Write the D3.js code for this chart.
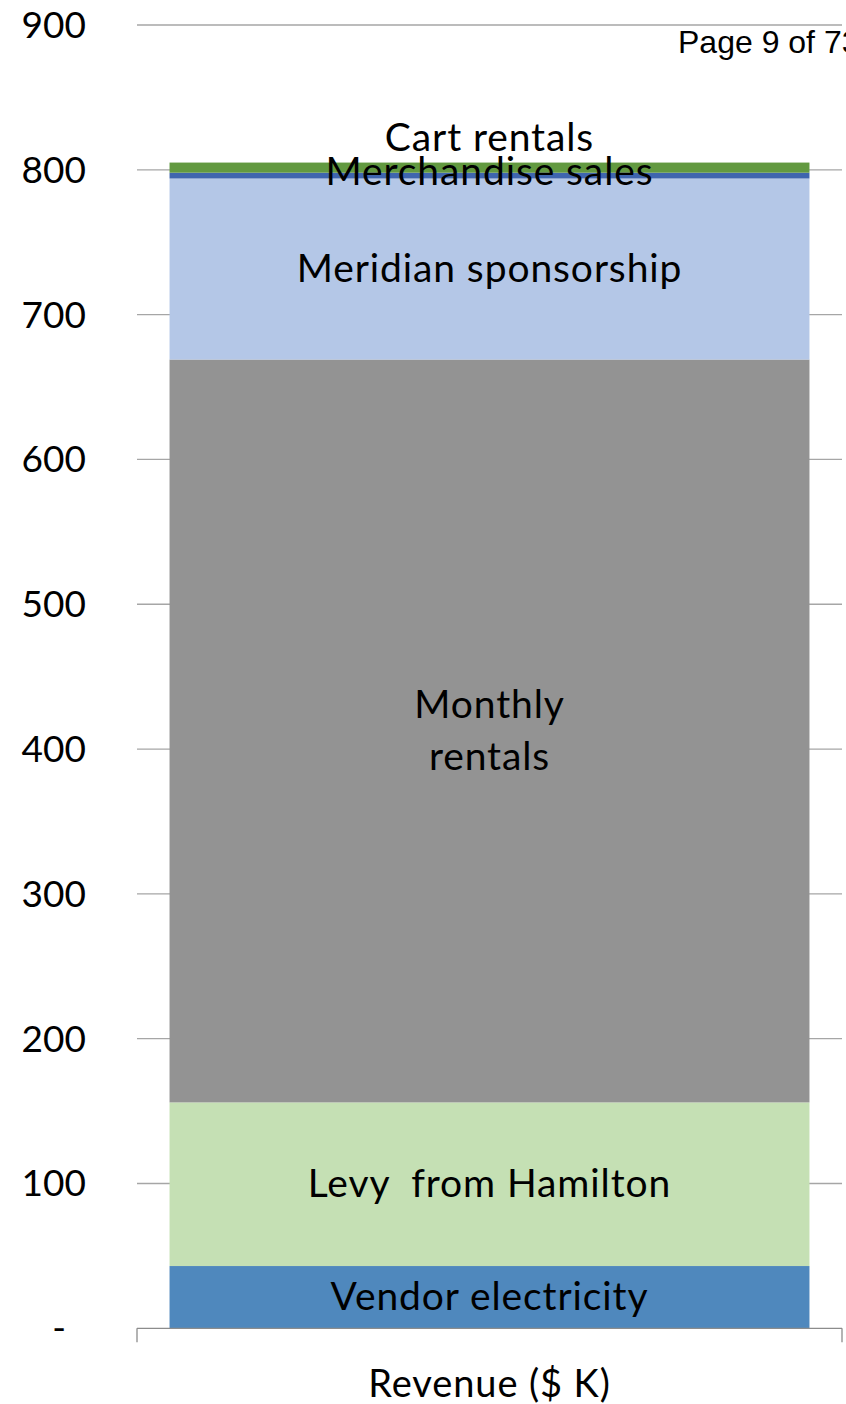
<!DOCTYPE html>
<html>
<head>
<meta charset="utf-8">
<script src="https://cdn.jsdelivr.net/npm/d3@7"></script>
<style>
  html, body { margin: 0; padding: 0; background: #fff; }
  svg { display: block; }
  text { white-space: pre; }
</style>
</head>
<body>
<svg id="chart" width="846" height="1404"></svg>
<script>
// ---- data ----
const category = ["Revenue ($ K)"];
const seriesNames = ["Vendor electricity", "Levy  from Hamilton", "Monthly rentals", "Meridian sponsorship", "Merchandise sales", "Cart rentals"];
const seriesLabels = [["Vendor electricity"], ["Levy  from Hamilton"], ["Monthly", "rentals"], ["Meridian sponsorship"], ["Merchandise sales"], ["Cart rentals"]];
const seriesValues = [43, 113, 513, 125, 4, 7];
const seriesColors = ["#4f88bd", "#c5e0b4", "#939393", "#b4c7e7", "#3f65ae", "#629940"];
const yTicks = [0, 100, 200, 300, 400, 500, 600, 700, 800, 900];
const pageNote = "Page 9 of 73";

// ---- layout ----
const svg = d3.select("#chart");
const plotLeft = 137, plotRight = 842, plotTop = 25, plotBottom = 1328.3;
const FONT = "Lato, 'Open Sans', sans-serif";

const y = d3.scaleLinear().domain([0, 900]).range([plotBottom, plotTop]);
const x = d3.scaleBand().domain(category).range([plotLeft, plotRight])
  .paddingInner(0.0923).paddingOuter(0.0923 / 2);

// gridlines
svg.append("g").selectAll("line").data(yTicks.filter(d => d > 0)).join("line")
  .attr("x1", plotLeft).attr("x2", plotRight)
  .attr("y1", d => y(d)).attr("y2", d => y(d))
  .attr("stroke", "#a6a6a6").attr("stroke-width", 1.3);

// tick labels
svg.append("g").selectAll("text").data(yTicks).join("text")
  .attr("x", d => d === 0 ? 59 : 86)
  .attr("y", d => y(d) + 13)
  .attr("text-anchor", d => d === 0 ? "middle" : "end")
  .attr("font-family", FONT)
  .attr("font-size", 37)
  .attr("fill", "#000")
  .text(d => d === 0 ? "-" : d3.format("d")(d));

// stacked data
const row = {};
seriesNames.forEach((n, i) => row[n] = seriesValues[i]);
const stack = d3.stack().keys(seriesNames)([row]);

const bx = x(category[0]), bw = x.bandwidth();
svg.append("g").selectAll("rect").data(stack).join("rect")
  .attr("x", bx).attr("width", bw)
  .attr("y", d => y(d[0][1]))
  .attr("height", d => y(d[0][0]) - y(d[0][1]))
  .attr("fill", (d, i) => seriesColors[i]);

// bottom axis line with end ticks
const axisG = svg.append("g");
axisG.append("line").attr("x1", plotLeft).attr("x2", plotRight)
  .attr("y1", plotBottom).attr("y2", plotBottom)
  .attr("stroke", "#8c8c8c").attr("stroke-width", 1.3);
[plotLeft, plotRight].forEach(px => {
  axisG.append("line").attr("x1", px).attr("x2", px)
    .attr("y1", plotBottom).attr("y2", plotBottom + 14)
    .attr("stroke", "#8c8c8c").attr("stroke-width", 1.3);
});

// category label
svg.append("text")
  .attr("x", bx + bw / 2).attr("y", 1397)
  .attr("text-anchor", "middle")
  .attr("font-family", FONT)
  .attr("font-size", 38)
  .attr("letter-spacing", 0.9)
  .attr("fill", "#000")
  .text(category[0]);

// segment labels
const cx = bx + bw / 2;
const labelG = svg.append("g")
  .attr("font-family", FONT)
  .attr("font-size", 39).attr("letter-spacing", 0.9)
  .attr("fill", "#000").attr("text-anchor", "middle");
stack.forEach((s, i) => {
  const lines = seriesLabels[i];
  const y0 = y(s[0][0]), y1 = y(s[0][1]);
  let mid = (y0 + y1) / 2;
  if (i === stack.length - 1) mid = y1 - 25; // top label placed above bar
  if (i === 4) mid = y1 - 1;
  const lh = 52;
  lines.forEach((ln, j) => {
    labelG.append("text")
      .attr("x", cx)
      .attr("y", mid + 13 + (j - (lines.length - 1) / 2) * lh)
      .text(ln);
  });
});

// page note
svg.append("text")
  .attr("x", 678).attr("y", 53)
  .attr("font-family", "'Liberation Sans', Arial, sans-serif")
  .attr("font-size", 32).attr("fill", "#000")
  .text(pageNote);
</script>
</body>
</html>
